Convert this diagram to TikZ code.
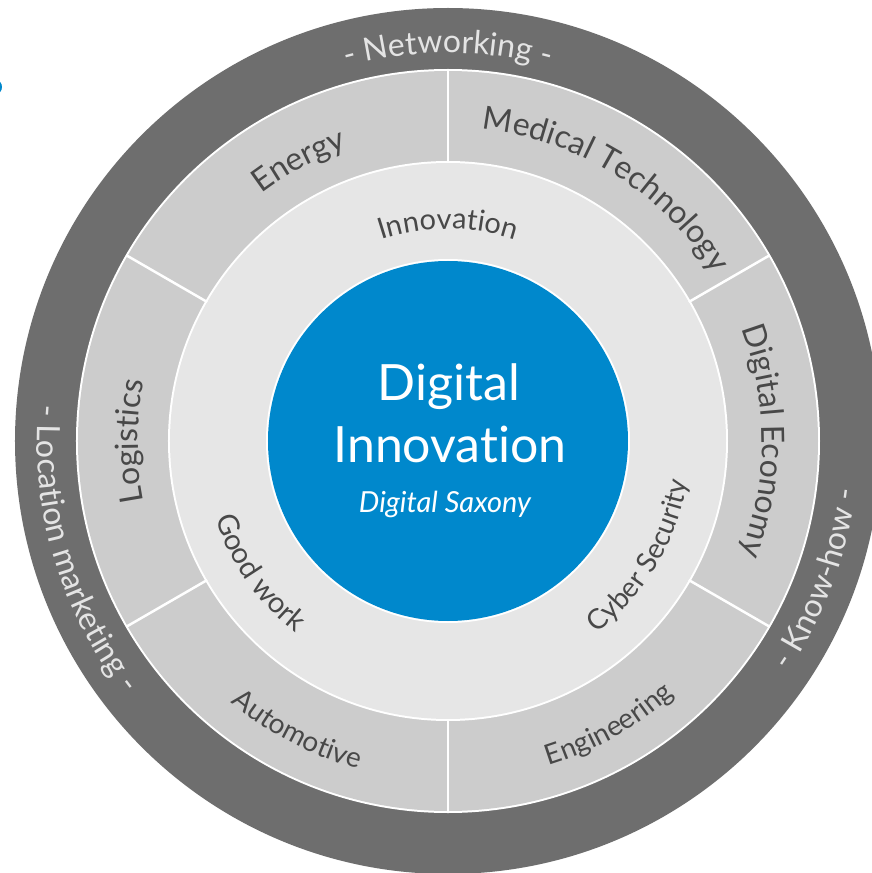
\documentclass[tikz,border=0pt]{standalone}
\usepackage{fontspec}
\setmainfont{Lato}[Ligatures={NoCommon,NoRare}]
\usetikzlibrary{decorations.text}
\definecolor{darkring}{RGB}{110,110,110}
\definecolor{segfill}{RGB}{204,204,204}
\definecolor{innerfill}{RGB}{230,230,230}
\definecolor{corefill}{RGB}{0,136,204}
\definecolor{labelgray}{RGB}{72,72,72}
\definecolor{outertext}{RGB}{228,228,228}
% #1 baseline radius, #2 start angle, #3 end angle, #4 font size, #5 colour, #6 text
\newcommand\ArcLabel[6]{%
  \path[decorate, decoration={text along path, text align=center,
      text color=#5, text={|\fontsize{#4}{#4}\selectfont|#6}}]
    (#2:#1) arc[start angle=#2, end angle=#3, radius=#1];}
\begin{document}
\begin{tikzpicture}[x=1pt,y=1pt,
  sepline/.style={draw=white, line width=2.5pt},
  coretext/.style={text=white, inner sep=0pt, anchor=base}]
\useasboundingbox (-448,-432) rectangle (423,441);
\fill[white] (-448,-432) rectangle (423,441);
% small cut-off blue fragment at the left edge
\fill[corefill] (-452,354) ellipse[x radius=6, y radius=7];
% rings
\fill[darkring] (0,0) circle[radius=433];
\fill[white] (0,0) circle[radius=372];
\fill[segfill] (0,0) circle[radius=370];
\fill[white] (0,0) circle[radius=280];
\fill[innerfill] (0,0) circle[radius=278];
\foreach \a in {30,90,150,210,270,330}
  \draw[sepline] (\a:278) -- (\a:371);
\fill[white] (0,0) circle[radius=182];
\fill[corefill] (0,0) circle[radius=180];
% centre text
\node[coretext, font=\fontsize{50}{60}\selectfont] (digital) at (1,41) {Digital};
\node[coretext, font=\fontsize{50}{60}\selectfont] (innov) at (2,-21) {Innovation};
\node[coretext, font=\itshape\fontsize{29}{34}\selectfont] (saxony) at (-3,-71) {Digital Saxony};
% outer ring labels
\ArcLabel{388}{130}{50}{32}{outertext}{- Networking -}
\ArcLabel{411}{160}{233}{32}{outertext}{- Location marketing -}
\ArcLabel{411}{-60}{19}{32}{outertext}{- Know-how -}
% segment labels
\ArcLabel{310}{143}{93}{32}{labelgray}{Energy}
\ArcLabel{314}{88}{28}{32}{labelgray}{Medical Technology}
\ArcLabel{314}{28}{-28}{32}{labelgray}{Digital Economy}
\ArcLabel{340}{-85}{-36}{28}{labelgray}{Engineering}
\ArcLabel{340}{218}{267}{28}{labelgray}{Automotive}
\ArcLabel{310}{205}{155}{32}{labelgray}{Logistics}
% inner ring labels
\ArcLabel{212}{130}{50}{29}{labelgray}{Innovation}
\ArcLabel{245}{190}{240}{29}{labelgray}{Good work}
\ArcLabel{243}{300}{358}{28}{labelgray}{Cyber Security}
\end{tikzpicture}
\end{document}
